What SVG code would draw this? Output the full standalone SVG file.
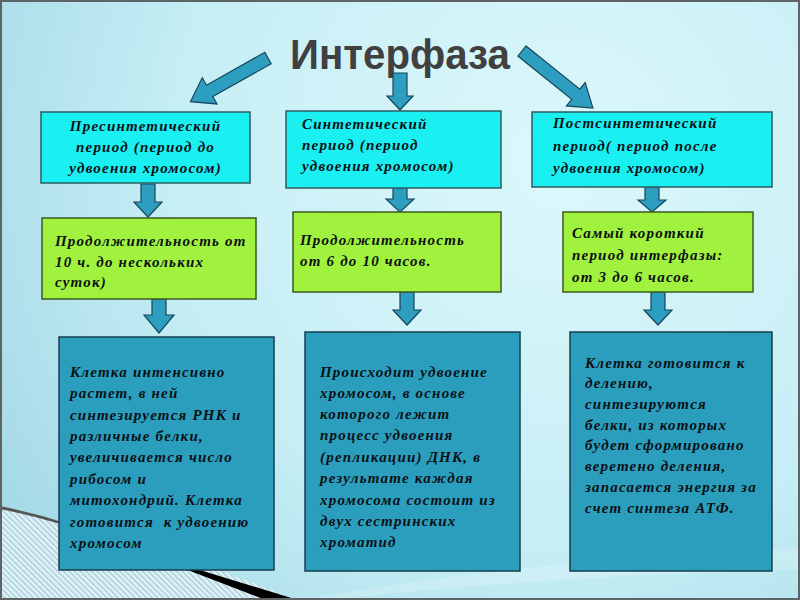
<svg xmlns="http://www.w3.org/2000/svg" width="800" height="600" viewBox="0 0 800 600">
<defs>
<radialGradient id="bg" cx="560" cy="160" r="700" gradientUnits="userSpaceOnUse">
<stop offset="0" stop-color="#dcf8fb"/>
<stop offset="0.55" stop-color="#c6eef5"/>
<stop offset="1" stop-color="#9fd6e4"/>
</radialGradient>
<pattern id="hatch" width="4" height="4" patternUnits="userSpaceOnUse" patternTransform="rotate(-45)">
<rect width="4" height="4" fill="#e4f4f8"/>
<rect width="1.6" height="4" fill="#a9cfdc"/>
</pattern>
</defs>
<style>
.cyan{fill:#1aeff2;stroke:#2b5c60;stroke-width:1.5}
.green{fill:#a0f23e;stroke:#3b5a20;stroke-width:1.5}
.teal{fill:#2b9ebe;stroke:#173e4c;stroke-width:1.5}
.arr{fill:#2e9ec0;stroke:#17475a;stroke-width:1.2}
.t{font-family:"Liberation Serif","Times New Roman",serif;font-weight:bold;font-style:italic;font-size:15px;letter-spacing:1.2px;fill:#0c1014}
.title{font-family:"Liberation Sans",Arial,sans-serif;font-weight:bold;font-size:43px;fill:#404040}
</style>
<rect width="800" height="600" fill="url(#bg)"/>
<path d="M0,507 Q150,540 296,600 L0,600 Z" fill="url(#hatch)"/>
<path d="M0,506 Q70,520 140,551 L140,553 Q70,523 0,509 Z" fill="#555"/>
<path d="M138,551 L298,600 L266,600 Z" fill="#000"/>
<path d="M300,600 Q520,560 800,548 L800,570 Q560,575 330,600 Z" fill="#ffffff" opacity="0.18"/>
<rect x="1" y="1" width="798" height="598" fill="none" stroke="#5e6466" stroke-width="2"/>

<text class="title" x="400" y="69" text-anchor="middle" textLength="220" lengthAdjust="spacingAndGlyphs">Интерфаза</text>

<g id="connectors">
<polygon class="arr" transform="translate(268,58) rotate(150.6)" points="0,-6.5 67,-6.5 67,-15 89,0 67,15 67,6.5 0,6.5"/>
<polygon class="arr" transform="translate(522,51) rotate(38.8)" points="0,-6.5 69,-6.5 69,-15 91,0 69,15 69,6.5 0,6.5"/>
<polygon class="arr" points="393,73 407,73 407,96 413,96 400,110 387,96 393,96"/>
<polygon class="arr" points="141,184 155,184 155,202 162,202 148,217 134,202 141,202"/>
<polygon class="arr" points="393,188 407,188 407,199 414,199 400,212 386,199 393,199"/>
<polygon class="arr" points="645,187 659,187 659,200 666,200 652,212 638,200 645,200"/>
<polygon class="arr" points="152,299 166,299 166,315 174,315 159,333 144,315 152,315"/>
<polygon class="arr" points="400,292 414,292 414,310 421,310 407,325 393,310 400,310"/>
<polygon class="arr" points="651,292 665,292 665,310 672,310 658,325 644,310 651,310"/>
</g>

<g id="presynthetic">
<rect class="cyan" x="41" y="112" width="209" height="71"/>
<text class="t" text-anchor="middle"><tspan x="145.5" y="131">Пресинтетический</tspan><tspan x="145.5" y="152">период (период до</tspan><tspan x="145.5" y="173">удвоения хромосом)</tspan></text>
</g>
<g id="synthetic">
<rect class="cyan" x="286" y="111" width="215" height="77"/>
<text class="t"><tspan x="302" y="129">Синтетический</tspan><tspan x="302" y="150">период (период</tspan><tspan x="302" y="171">удвоения хромосом)</tspan></text>
</g>
<g id="postsynthetic">
<rect class="cyan" x="532" y="112" width="240" height="75"/>
<text class="t"><tspan x="553" y="128">Постсинтетический</tspan><tspan x="553" y="151">период( период после</tspan><tspan x="553" y="173">удвоения хромосом)</tspan></text>
</g>

<g id="duration1">
<rect class="green" x="42" y="218" width="214" height="81"/>
<text class="t"><tspan x="55" y="246">Продолжительность от</tspan><tspan x="55" y="267">10 ч. до нескольких</tspan><tspan x="55" y="287">суток)</tspan></text>
</g>
<g id="duration2">
<rect class="green" x="293" y="212" width="208" height="80"/>
<text class="t"><tspan x="300" y="245">Продолжительность</tspan><tspan x="300" y="266">от 6 до 10 часов.</tspan></text>
</g>
<g id="duration3">
<rect class="green" x="563" y="212" width="190" height="80"/>
<text class="t"><tspan x="572" y="238">Самый короткий</tspan><tspan x="572" y="260">период интерфазы:</tspan><tspan x="572" y="282">от 3 до 6 часов.</tspan></text>
</g>

<g id="desc1">
<rect class="teal" x="59" y="337" width="215" height="233"/>
<text class="t"><tspan x="70" y="377">Клетка интенсивно</tspan><tspan x="70" y="398">растет, в ней</tspan><tspan x="70" y="420">синтезируется РНК и</tspan><tspan x="70" y="441">различные белки,</tspan><tspan x="70" y="462">увеличивается число</tspan><tspan x="70" y="484">рибосом и</tspan><tspan x="70" y="505">митохондрий. Клетка</tspan><tspan x="70" y="527" xml:space="preserve">готовится  к удвоению</tspan><tspan x="70" y="548">хромосом</tspan></text>
</g>
<g id="desc2">
<rect class="teal" x="305" y="332" width="215" height="239"/>
<text class="t"><tspan x="320" y="377">Происходит удвоение</tspan><tspan x="320" y="398">хромосом, в основе</tspan><tspan x="320" y="419">которого лежит</tspan><tspan x="320" y="440">процесс удвоения</tspan><tspan x="320" y="462">(репликации) ДНК, в</tspan><tspan x="320" y="483">результате каждая</tspan><tspan x="320" y="505">хромосома состоит из</tspan><tspan x="320" y="526">двух сестринских</tspan><tspan x="320" y="547">хроматид</tspan></text>
</g>
<g id="desc3">
<rect class="teal" x="570" y="332" width="202" height="239"/>
<text class="t"><tspan x="585" y="368">Клетка готовится к</tspan><tspan x="585" y="388">делению,</tspan><tspan x="585" y="409">синтезируются</tspan><tspan x="585" y="430">белки, из которых</tspan><tspan x="585" y="450">будет сформировано</tspan><tspan x="585" y="471">веретено деления,</tspan><tspan x="585" y="492">запасается энергия за</tspan><tspan x="585" y="513">счет синтеза АТФ.</tspan></text>
</g>
</svg>
